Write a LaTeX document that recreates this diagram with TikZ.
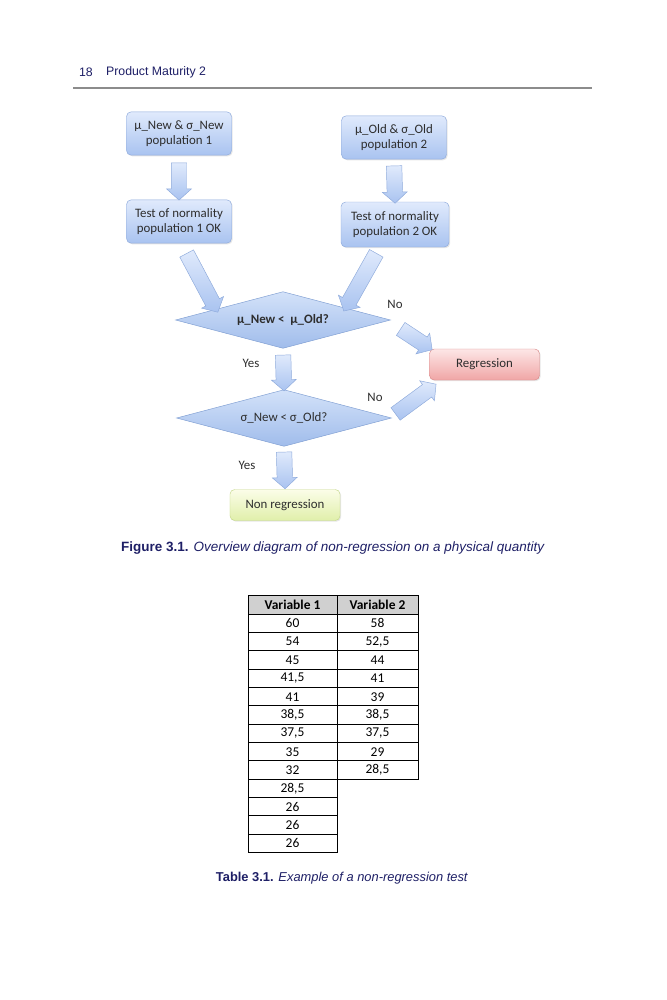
\documentclass[tikz,border=0pt]{standalone}
\usepackage{fontspec}
\setmainfont{Liberation Sans}
\newfontfamily\calib{Carlito}
\usetikzlibrary{calc,shapes.geometric,shapes.arrows,shadows}
\definecolor{navy}{HTML}{1E1F66}
\definecolor{rulegray}{HTML}{8C8C8C}
\definecolor{flowtext}{HTML}{2E2E2E}
\definecolor{boxtop}{HTML}{E0EAFC}
\definecolor{boxbot}{HTML}{A9C3F0}
\definecolor{boxedge}{HTML}{8EAADB}
\definecolor{diatop}{HTML}{D3E2F9}
\definecolor{diabot}{HTML}{A0BCEB}
\definecolor{diaedge}{HTML}{7F9ED2}
\definecolor{regtop}{HTML}{FDE6E6}
\definecolor{regbot}{HTML}{F0A6A6}
\definecolor{regedge}{HTML}{D98A8A}
\definecolor{nrtop}{HTML}{FBFDE8}
\definecolor{nrbot}{HTML}{E0EFAA}
\definecolor{nredge}{HTML}{C5D88C}
\definecolor{hdrgray}{HTML}{D0D0D0}
\tikzstyle{cell} = [draw=black, line width=0.7pt, inner sep=0pt, minimum height=0.55cm, font=\calib\fontsize{11.5}{13}\selectfont]

% block arrow between two named points
\newcommand{\barrow}[2]{%
  \path let \p1=($(#2)-(#1)$), \n1={veclen(\x1,\y1)} in
    (#1) -- node[blockarr, sloped, allow upside down, minimum height=\n1] {} (#2);}

\begin{document}
\begin{tikzpicture}
 [x=0.03cm, y=-0.03cm,
  popbox/.style={draw=boxedge, rounded corners=4pt, top color=boxtop, bottom color=boxbot,
    minimum width=3.15cm, minimum height=1.3cm, align=center, text=flowtext,
    font=\calib\fontsize{11}{13}\selectfont,
    drop shadow={opacity=0.2, shadow xshift=1pt, shadow yshift=-1pt}},
  outbox/.style={popbox, minimum width=3.3cm, minimum height=0.93cm},
  decision/.style={diamond, aspect=4, draw=diaedge, top color=diatop, bottom color=diabot, inner sep=0pt,
    minimum width=6.45cm, minimum height=1.7cm, text=flowtext,
    font=\calib\fontsize{11}{13}\selectfont},
  blockarr/.style={single arrow, draw=boxedge, top color=boxtop, bottom color=boxbot,
    inner sep=0.225cm, single arrow head extend=0.14cm, single arrow tip angle=96},
  lbl/.style={text=flowtext, font=\calib\fontsize{11}{13}\selectfont},
  captext/.style={text=navy, font=\fontsize{11}{13}\selectfont}]

  \useasboundingbox (0,0) rectangle (666,1000);

  % running head
  \node[captext, font=\fontsize{10.5}{12}\selectfont, anchor=west] at (75,72) (pg) {18};
  \node[captext, font=\fontsize{10.5}{12}\selectfont, anchor=west] at (102,72) (run) {Product Maturity 2};
  \draw[rulegray, line width=1.1pt] (73,88) -- (592,88);

  % flow chart
  \draw node[popbox] at (179,133.5) (n1) {μ\_New \& σ\_New\\population 1};
  \draw node[popbox] at (394,137.5) (n2) {μ\_Old \& σ\_Old\\population 2};
  \draw node[popbox] at (179,221.5) (t1) {Test of normality\\population 1 OK};
  \draw node[popbox, minimum width=3.24cm, minimum height=1.35cm] at (395,224.5) (t2) {Test of normality\\population 2 OK};
  \draw node[decision] at (283,320) (d1) {\bfseries μ\_New <\ \ μ\_Old?};
  \draw node[decision] at (284,418) (d2) {σ\_New < σ\_Old?};
  \draw node[outbox, draw=regedge, top color=regtop, bottom color=regbot] at (484.5,364.5) (reg) {Regression};
  \draw node[outbox, draw=nredge, top color=nrtop, bottom color=nrbot] at (285,505) (nreg) {Non regression};

  \node[lbl] at (395,304) (no1) {No};
  \node[lbl] at (251,363) (yes1) {Yes};
  \node[lbl] at (375,397) (no2) {No};
  \node[lbl] at (247,465) (yes2) {Yes};

  \coordinate (a1s) at ($(n1.south)+(0,4)$);
  \coordinate (a1e) at ($(t1.north)+(0,-3)$);
  \coordinate (a2s) at ($(n2.south)+(0,3)$);
  \coordinate (a2e) at ($(t2.north)+(0,-2)$);
  \coordinate (a3s) at ($(t1.south)+(6,7)$);
  \coordinate (a3e) at ($(d1.west)!0.38!(d1.north)$);
  \coordinate (a4s) at ($(t2.south)+(-17,3)$);
  \coordinate (a4e) at ($(d1.north)!0.58!(d1.east)$);
  \coordinate (a5s) at ($(d1.east)+(7,7)$);
  \coordinate (a5e) at ($(reg.north west)+(0,-1)$);
  \coordinate (a6s) at ($(d2.east)+(1,-2)$);
  \coordinate (a6e) at ($(reg.south west)+(4,6)$);
  \coordinate (a7s) at ($(d1.south)+(0,3)$);
  \coordinate (a7e) at ($(d2.north)+(0,-2)$);
  \coordinate (a8s) at ($(d2.south)+(0,2)$);
  \coordinate (a8e) at ($(nreg.north)+(0,-4)$);
  \foreach \s/\e in {a1s/a1e,a2s/a2e,a3s/a3e,a4s/a4e,a5s/a5e,a6s/a6e,a7s/a7e,a8s/a8e}
    \barrow{\s}{\e};

  \node[captext, font=\fontsize{11.5}{13}\selectfont] at (333,548) (fig) {\textbf{Figure 3.1.} \textit{Overview diagram of non-regression on a physical quantity}};

  % table
  \node[cell, fill=hdrgray, minimum width=2.67cm] at (292.5,605) (h1) {\bfseries Variable 1};
  \node[cell, fill=hdrgray, minimum width=2.43cm] at (377.5,605) (h2) {\bfseries Variable 2};
  \foreach \v [count=\i] in {60,54,45,{41,5},41,{38,5},{37,5},35,32,{28,5},26,26,26}
    \node[cell, minimum width=2.67cm] at (292.5,{605+18.3333*\i}) (c1-\i) {\v};
  \foreach \v [count=\i] in {58,{52,5},44,41,39,{38,5},{37,5},29,{28,5}}
    \node[cell, minimum width=2.43cm] at (377.5,{605+18.3333*\i}) (c2-\i) {\v};

  \node[captext] at (342,878) (tab) {\textbf{Table 3.1.} \textit{Example of a non-regression test}};
\end{tikzpicture}
\end{document}
